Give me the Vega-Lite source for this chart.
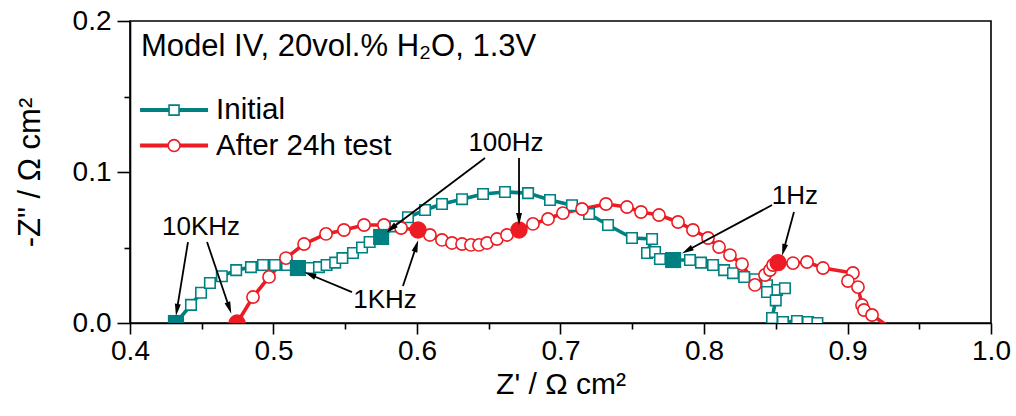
{
  "$schema": "https://vega.github.io/schema/vega-lite/v6.json",
  "width": 861,
  "height": 302,
  "autosize": {"type": "none"},
  "padding": {"left": 130, "top": 21, "right": 25, "bottom": 93},
  "config": {
    "font": "Liberation Sans",
    "view": {"stroke": "black", "strokeWidth": 1.6},
    "axis": {"grid": false, "domainColor": "black", "tickColor": "black", "labelColor": "black", "titleColor": "black", "domainWidth": 1.6, "tickWidth": 1.6, "labelFont": "Liberation Sans", "titleFont": "Liberation Sans", "titleFontWeight": "normal"}
  },
  "datasets": {
    "eis": [
      {"series": "Initial", "i": 1, "zr": 0.432, "zi": 0.0, "m": true},
      {"series": "Initial", "i": 2, "zr": 0.4425, "zi": 0.012, "m": false},
      {"series": "Initial", "i": 3, "zr": 0.4495, "zi": 0.020, "m": false},
      {"series": "Initial", "i": 4, "zr": 0.4557, "zi": 0.0265, "m": false},
      {"series": "Initial", "i": 5, "zr": 0.464, "zi": 0.031, "m": false},
      {"series": "Initial", "i": 6, "zr": 0.474, "zi": 0.035, "m": false},
      {"series": "Initial", "i": 7, "zr": 0.4843, "zi": 0.037, "m": false},
      {"series": "Initial", "i": 8, "zr": 0.4927, "zi": 0.0384, "m": false},
      {"series": "Initial", "i": 9, "zr": 0.501, "zi": 0.0384, "m": false},
      {"series": "Initial", "i": 10, "zr": 0.5094, "zi": 0.0384, "m": false},
      {"series": "Initial", "i": 11, "zr": 0.517, "zi": 0.0364, "m": true},
      {"series": "Initial", "i": 12, "zr": 0.5254, "zi": 0.0364, "m": false},
      {"series": "Initial", "i": 13, "zr": 0.5317, "zi": 0.037, "m": false},
      {"series": "Initial", "i": 14, "zr": 0.537, "zi": 0.0384, "m": false},
      {"series": "Initial", "i": 15, "zr": 0.543, "zi": 0.040, "m": false},
      {"series": "Initial", "i": 16, "zr": 0.548, "zi": 0.043, "m": false},
      {"series": "Initial", "i": 17, "zr": 0.5554, "zi": 0.0464, "m": false},
      {"series": "Initial", "i": 18, "zr": 0.5617, "zi": 0.050, "m": false},
      {"series": "Initial", "i": 19, "zr": 0.567, "zi": 0.0536, "m": false},
      {"series": "Initial", "i": 20, "zr": 0.575, "zi": 0.057, "m": true},
      {"series": "Initial", "i": 21, "zr": 0.585, "zi": 0.064, "m": false},
      {"series": "Initial", "i": 22, "zr": 0.5937, "zi": 0.070, "m": false},
      {"series": "Initial", "i": 23, "zr": 0.6056, "zi": 0.0748, "m": false},
      {"series": "Initial", "i": 24, "zr": 0.6174, "zi": 0.0788, "m": false},
      {"series": "Initial", "i": 25, "zr": 0.6314, "zi": 0.082, "m": false},
      {"series": "Initial", "i": 26, "zr": 0.646, "zi": 0.0854, "m": false},
      {"series": "Initial", "i": 27, "zr": 0.6613, "zi": 0.0868, "m": false},
      {"series": "Initial", "i": 28, "zr": 0.6774, "zi": 0.086, "m": false},
      {"series": "Initial", "i": 29, "zr": 0.6927, "zi": 0.0815, "m": false},
      {"series": "Initial", "i": 30, "zr": 0.708, "zi": 0.078, "m": false},
      {"series": "Initial", "i": 31, "zr": 0.7199, "zi": 0.0722, "m": false},
      {"series": "Initial", "i": 32, "zr": 0.7331, "zi": 0.0649, "m": false},
      {"series": "Initial", "i": 33, "zr": 0.7498, "zi": 0.0563, "m": false},
      {"series": "Initial", "i": 34, "zr": 0.7638, "zi": 0.0556, "m": false},
      {"series": "Initial", "i": 35, "zr": 0.7603, "zi": 0.0464, "m": false},
      {"series": "Initial", "i": 36, "zr": 0.7659, "zi": 0.047, "m": false},
      {"series": "Initial", "i": 37, "zr": 0.7693, "zi": 0.0424, "m": false},
      {"series": "Initial", "i": 38, "zr": 0.7785, "zi": 0.0417, "m": true},
      {"series": "Initial", "i": 39, "zr": 0.7902, "zi": 0.0417, "m": false},
      {"series": "Initial", "i": 40, "zr": 0.7979, "zi": 0.040, "m": false},
      {"series": "Initial", "i": 41, "zr": 0.8063, "zi": 0.0384, "m": false},
      {"series": "Initial", "i": 42, "zr": 0.814, "zi": 0.035, "m": false},
      {"series": "Initial", "i": 43, "zr": 0.8202, "zi": 0.033, "m": false},
      {"series": "Initial", "i": 44, "zr": 0.828, "zi": 0.0305, "m": false},
      {"series": "Initial", "i": 45, "zr": 0.8355, "zi": 0.029, "m": false},
      {"series": "Initial", "i": 46, "zr": 0.8439, "zi": 0.025, "m": false},
      {"series": "Initial", "i": 47, "zr": 0.8509, "zi": 0.0219, "m": false},
      {"series": "Initial", "i": 48, "zr": 0.8564, "zi": 0.023, "m": false},
      {"series": "Initial", "i": 49, "zr": 0.8439, "zi": 0.0205, "m": false},
      {"series": "Initial", "i": 50, "zr": 0.850, "zi": 0.015, "m": false},
      {"series": "Initial", "i": 51, "zr": 0.8474, "zi": 0.0033, "m": false},
      {"series": "Initial", "i": 52, "zr": 0.855, "zi": 0.0007, "m": false},
      {"series": "Initial", "i": 53, "zr": 0.8648, "zi": 0.0013, "m": false},
      {"series": "Initial", "i": 54, "zr": 0.8725, "zi": 0.0007, "m": false},
      {"series": "Initial", "i": 55, "zr": 0.879, "zi": 0.0, "m": false},
      {"series": "After 24h test", "i": 1, "zr": 0.4746, "zi": 0.0, "m": true},
      {"series": "After 24h test", "i": 2, "zr": 0.4857, "zi": 0.0172, "m": false},
      {"series": "After 24h test", "i": 3, "zr": 0.4969, "zi": 0.0305, "m": false},
      {"series": "After 24h test", "i": 4, "zr": 0.5087, "zi": 0.043, "m": false},
      {"series": "After 24h test", "i": 5, "zr": 0.5213, "zi": 0.0523, "m": false},
      {"series": "After 24h test", "i": 6, "zr": 0.5366, "zi": 0.059, "m": false},
      {"series": "After 24h test", "i": 7, "zr": 0.5491, "zi": 0.0616, "m": false},
      {"series": "After 24h test", "i": 8, "zr": 0.5631, "zi": 0.0649, "m": false},
      {"series": "After 24h test", "i": 9, "zr": 0.577, "zi": 0.0649, "m": false},
      {"series": "After 24h test", "i": 10, "zr": 0.5889, "zi": 0.0629, "m": false},
      {"series": "After 24h test", "i": 11, "zr": 0.6007, "zi": 0.0616, "m": true},
      {"series": "After 24h test", "i": 12, "zr": 0.609, "zi": 0.0583, "m": false},
      {"series": "After 24h test", "i": 13, "zr": 0.6174, "zi": 0.055, "m": false},
      {"series": "After 24h test", "i": 14, "zr": 0.6244, "zi": 0.053, "m": false},
      {"series": "After 24h test", "i": 15, "zr": 0.6314, "zi": 0.0523, "m": false},
      {"series": "After 24h test", "i": 16, "zr": 0.6376, "zi": 0.0517, "m": false},
      {"series": "After 24h test", "i": 17, "zr": 0.6432, "zi": 0.0517, "m": false},
      {"series": "After 24h test", "i": 18, "zr": 0.6488, "zi": 0.053, "m": false},
      {"series": "After 24h test", "i": 19, "zr": 0.6557, "zi": 0.0556, "m": false},
      {"series": "After 24h test", "i": 20, "zr": 0.6627, "zi": 0.0583, "m": false},
      {"series": "After 24h test", "i": 21, "zr": 0.6711, "zi": 0.0616, "m": true},
      {"series": "After 24h test", "i": 22, "zr": 0.6808, "zi": 0.0656, "m": false},
      {"series": "After 24h test", "i": 23, "zr": 0.6913, "zi": 0.0689, "m": false},
      {"series": "After 24h test", "i": 24, "zr": 0.7017, "zi": 0.0728, "m": false},
      {"series": "After 24h test", "i": 25, "zr": 0.715, "zi": 0.0755, "m": false},
      {"series": "After 24h test", "i": 26, "zr": 0.7317, "zi": 0.0788, "m": false},
      {"series": "After 24h test", "i": 27, "zr": 0.7463, "zi": 0.0768, "m": false},
      {"series": "After 24h test", "i": 28, "zr": 0.7561, "zi": 0.0735, "m": false},
      {"series": "After 24h test", "i": 29, "zr": 0.7686, "zi": 0.0715, "m": false},
      {"series": "After 24h test", "i": 30, "zr": 0.7819, "zi": 0.0669, "m": false},
      {"series": "After 24h test", "i": 31, "zr": 0.7923, "zi": 0.0616, "m": false},
      {"series": "After 24h test", "i": 32, "zr": 0.8028, "zi": 0.0563, "m": false},
      {"series": "After 24h test", "i": 33, "zr": 0.8105, "zi": 0.0503, "m": false},
      {"series": "After 24h test", "i": 34, "zr": 0.8181, "zi": 0.045, "m": false},
      {"series": "After 24h test", "i": 35, "zr": 0.8265, "zi": 0.039, "m": false},
      {"series": "After 24h test", "i": 36, "zr": 0.8355, "zi": 0.0252, "m": false},
      {"series": "After 24h test", "i": 37, "zr": 0.8425, "zi": 0.0318, "m": false},
      {"series": "After 24h test", "i": 38, "zr": 0.846, "zi": 0.0351, "m": false},
      {"series": "After 24h test", "i": 39, "zr": 0.8481, "zi": 0.0384, "m": false},
      {"series": "After 24h test", "i": 40, "zr": 0.8516, "zi": 0.0400, "m": true},
      {"series": "After 24h test", "i": 41, "zr": 0.862, "zi": 0.0397, "m": false},
      {"series": "After 24h test", "i": 42, "zr": 0.8718, "zi": 0.0404, "m": false},
      {"series": "After 24h test", "i": 43, "zr": 0.8829, "zi": 0.0364, "m": false},
      {"series": "After 24h test", "i": 44, "zr": 0.9038, "zi": 0.0331, "m": false},
      {"series": "After 24h test", "i": 45, "zr": 0.9003, "zi": 0.0278, "m": false},
      {"series": "After 24h test", "i": 46, "zr": 0.9073, "zi": 0.0238, "m": false},
      {"series": "After 24h test", "i": 47, "zr": 0.9101, "zi": 0.0119, "m": false},
      {"series": "After 24h test", "i": 48, "zr": 0.9115, "zi": 0.0086, "m": false},
      {"series": "After 24h test", "i": 49, "zr": 0.9171, "zi": 0.0053, "m": false},
      {"series": "After 24h test", "i": 50, "zr": 0.931, "zi": -0.004, "m": false}
    ],
    "arrows": [
      {"x": 0.4404, "y": 0.0536, "x2": 0.4328, "y2": 0.0093, "heading": 189},
      {"x": 0.4537, "y": 0.0536, "x2": 0.469, "y2": 0.0106, "heading": 161},
      {"x": 0.5547, "y": 0.0205, "x2": 0.5261, "y2": 0.0318, "heading": 294},
      {"x": 0.5902, "y": 0.0245, "x2": 0.5993, "y2": 0.0503, "heading": 18},
      {"x": 0.6474, "y": 0.1093, "x2": 0.5826, "y2": 0.0629, "heading": 231},
      {"x": 0.6711, "y": 0.1093, "x2": 0.6711, "y2": 0.0695, "heading": 180},
      {"x": 0.8474, "y": 0.0781, "x2": 0.7889, "y2": 0.0483, "heading": 241},
      {"x": 0.8627, "y": 0.0735, "x2": 0.8557, "y2": 0.049, "heading": 195}
    ],
    "freqlabels": [
      {"x": 0.4495, "y": 0.0636, "label": "10KHz"},
      {"x": 0.5777, "y": 0.0152, "label": "1KHz"},
      {"x": 0.662, "y": 0.1192, "label": "100Hz"},
      {"x": 0.8634, "y": 0.0841, "label": "1Hz"}
    ],
    "legend": [
      {"series": "Initial", "x1": 0.407, "x2": 0.4544, "xm": 0.4307, "xt": 0.46, "y": 0.141},
      {"series": "After 24h test", "x1": 0.407, "x2": 0.4544, "xm": 0.4307, "xt": 0.46, "y": 0.1175}
    ],
    "heading": [
      {"x": 0.4077, "y": 0.1828, "label": "Model IV, 20vol.% H₂O, 1.3V"}
    ]
  },
  "layer": [
    {
      "data": {"name": "eis"},
      "mark": {"type": "line", "strokeWidth": 3.6, "clip": true},
      "encoding": {
        "x": {"field": "zr", "type": "quantitative", "scale": {"domain": [0.4, 1.0], "nice": false, "zero": false},
          "axis": {"orient": "bottom", "values": [0.4, 0.5, 0.6, 0.7, 0.8, 0.9, 1.0], "format": ".1f", "tickSize": 11, "labelFontSize": 28, "labelPadding": 3, "title": "Z' / Ω cm²", "titleFontSize": 30, "titlePadding": 4, "labelFlush": false}},
        "y": {"field": "zi", "type": "quantitative", "scale": {"domain": [0, 0.2], "nice": false},
          "axis": {"orient": "left", "values": [0, 0.1, 0.2], "format": ".1f", "tickSize": 13, "labelFontSize": 28, "labelPadding": 6, "title": "-Z\" / Ω cm²", "titleFontSize": 31, "titlePadding": 26, "labelFlush": false}},
        "color": {"field": "series", "type": "nominal", "scale": {"domain": ["Initial", "After 24h test"], "range": ["#008080", "#ed1c24"]}, "legend": null},
        "detail": {"field": "series"},
        "order": {"field": "i", "type": "quantitative"}
      }
    },
    {
      "data": {"name": "eis"},
      "transform": [{"filter": "!datum.m && datum.zi >= 0"}],
      "mark": {"type": "point", "filled": true, "fill": "white", "strokeWidth": 1.6, "opacity": 1, "clip": true},
      "encoding": {
        "x": {"field": "zr", "type": "quantitative",
          "axis": {"orient": "bottom", "values": [0.45, 0.55, 0.65, 0.75, 0.85, 0.95], "tickSize": 6, "labels": false, "domain": false, "title": null}},
        "y": {"field": "zi", "type": "quantitative",
          "axis": {"orient": "left", "values": [0.05, 0.15], "tickSize": 6, "labels": false, "domain": false, "title": null}},
        "stroke": {"field": "series", "type": "nominal", "scale": {"domain": ["Initial", "After 24h test"], "range": ["#008080", "#ed1c24"]}, "legend": null},
        "shape": {"field": "series", "type": "nominal", "scale": {"domain": ["Initial", "After 24h test"], "range": ["square", "circle"]}, "legend": null},
        "size": {"field": "series", "type": "nominal", "scale": {"domain": ["Initial", "After 24h test"], "range": [110, 150]}, "legend": null}
      }
    },
    {
      "data": {"name": "eis"},
      "transform": [{"filter": "datum.m"}],
      "mark": {"type": "point", "filled": true, "opacity": 1, "clip": true},
      "encoding": {
        "x": {"field": "zr", "type": "quantitative", "axis": null},
        "y": {"field": "zi", "type": "quantitative", "axis": null},
        "color": {"field": "series", "type": "nominal", "legend": null},
        "shape": {"field": "series", "type": "nominal", "legend": null},
        "size": {"field": "series", "type": "nominal", "scale": {"domain": ["Initial", "After 24h test"], "range": [260, 300]}, "legend": null}
      }
    },
    {
      "data": {"name": "arrows"},
      "mark": {"type": "rule", "color": "black", "strokeWidth": 1.8},
      "encoding": {
        "x": {"field": "x", "type": "quantitative", "axis": null},
        "y": {"field": "y", "type": "quantitative", "axis": null},
        "x2": {"field": "x2"},
        "y2": {"field": "y2"}
      }
    },
    {
      "data": {"name": "arrows"},
      "mark": {"type": "point", "shape": "M0,-1L0.42,0.7L-0.42,0.7Z", "filled": true, "color": "black", "opacity": 1, "size": 200},
      "encoding": {
        "x": {"field": "x2", "type": "quantitative", "axis": null},
        "y": {"field": "y2", "type": "quantitative", "axis": null},
        "angle": {"field": "heading", "type": "quantitative", "scale": null}
      }
    },
    {
      "data": {"name": "freqlabels"},
      "mark": {"type": "text", "fontSize": 26, "color": "black", "align": "center", "baseline": "middle"},
      "encoding": {
        "x": {"field": "x", "type": "quantitative", "axis": null},
        "y": {"field": "y", "type": "quantitative", "axis": null},
        "text": {"field": "label"}
      }
    },
    {
      "data": {"name": "legend"},
      "mark": {"type": "rule", "strokeWidth": 4},
      "encoding": {
        "x": {"field": "x1", "type": "quantitative", "axis": null},
        "x2": {"field": "x2"},
        "y": {"field": "y", "type": "quantitative", "axis": null},
        "color": {"field": "series", "type": "nominal", "legend": null}
      }
    },
    {
      "data": {"name": "legend"},
      "mark": {"type": "point", "filled": true, "fill": "white", "strokeWidth": 1.6, "opacity": 1},
      "encoding": {
        "x": {"field": "xm", "type": "quantitative", "axis": null},
        "y": {"field": "y", "type": "quantitative", "axis": null},
        "stroke": {"field": "series", "type": "nominal", "legend": null},
        "shape": {"field": "series", "type": "nominal", "legend": null},
        "size": {"field": "series", "type": "nominal", "scale": {"domain": ["Initial", "After 24h test"], "range": [100, 140]}, "legend": null}
      }
    },
    {
      "data": {"name": "legend"},
      "mark": {"type": "text", "fontSize": 29.5, "color": "black", "align": "left", "baseline": "middle"},
      "encoding": {
        "x": {"field": "xt", "type": "quantitative", "axis": null},
        "y": {"field": "y", "type": "quantitative", "axis": null},
        "text": {"field": "series"}
      }
    },
    {
      "data": {"name": "heading"},
      "mark": {"type": "text", "fontSize": 31, "color": "black", "align": "left", "baseline": "middle"},
      "encoding": {
        "x": {"field": "x", "type": "quantitative", "axis": null},
        "y": {"field": "y", "type": "quantitative", "axis": null},
        "text": {"field": "label"}
      }
    }
  ],
  "resolve": {"axis": {"x": "independent", "y": "independent"}, "scale": {"size": "independent"}}
}
